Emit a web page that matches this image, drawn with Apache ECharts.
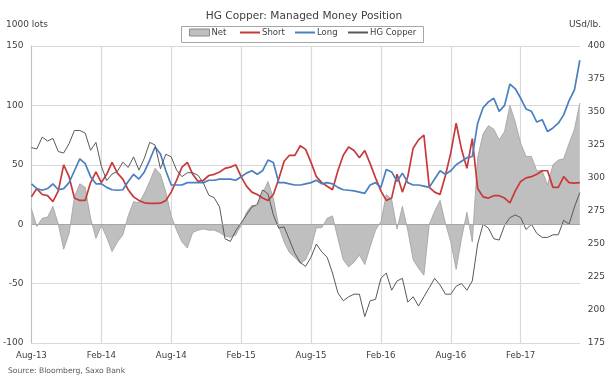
<!DOCTYPE html>
<html>
<head>
<meta charset="utf-8">
<script src="https://cdn.jsdelivr.net/npm/echarts@6/dist/echarts.min.js"></script>
<style>
html,body{margin:0;padding:0;background:#fff;}
#c{width:608px;height:381px;}
</style>
</head>
<body>
<div id="c"></div>
<script>
// Bi-weekly observations starting 2013-08-06
var startDate = '2013-08-06';
var stepDays = 14;
var tickLabels = ['Aug-13','Feb-14','Aug-14','Feb-15','Aug-15','Feb-16','Aug-16','Feb-17'];

var longPos = [
34,30,28.6,30,34,29,30,35,45,55,51,40,34,
34,31,29,28.6,29,36,42,38,44,54,65,59,45,
33,33,33,35,35,35,35,37,37,38,38,38,37,
40,43,45,42,45,54,52,35,35,34,33,33,34,
35,37,34,35,34,31,29,28.6,28,27,26,33,35,
31,46,44,36,43,35,33,33,32,31,38,45,42,
45,50,53,56,57,85,98,103,106,95,100,118,114,
106,97,95,86,88,78,81,85,92,104,113,138
];
var shortPos = [
23,30,25,24,19,28,50,40,22,20,20,35,44,
35,42,52,43,38,29,23,20,18,17.5,17.5,17.7,20,
27,37,48,52,42,36,37,41,42,44,47,48,50,
40,32,27,25,22,20,25,38,53,58,58,66,63,
52,40,35,32,29,45,58,65,62,56,62,51,39,
28,20,22,42,27,40,64,71,75,31,27,25,41,
60,85,63,47,72,30,23,22,24,24,22,18,28,
36,39,40,42,45,45,31,31,40,35,34.5,35
];
var netPos = [
13,-2,5,6,15,0,-21,-8,23,34,31,5,-12,
-1,-11,-23,-15,-9,7,19,18,26,36,47,42,27,
7,-5,-15,-20,-7,-5,-4,-5,-5,-7,-10,-11,-9,
-1,10,16,15,26,36,22,-2,-15,-24,-28,-33,-30,
-20,-3,-3,5,7,-12,-30,-36,-32,-26,-34,-19,-5,
2,25,21,-4,15,-5,-30,-37,-43,0,11,20,1,
-15,-38,-12,10,-15,56,76,83,80,71,78,100,86,
68,57,57,45,45,33,50,54,55,68,80,102
];
var copper = [
323,322,331,328,330,320,319,326,336,336,334,321,327,
309,298,303,305,312,308,316,306,315,327,325,307,318,
316,306,301,304,304,302,296,287,285,278,254,252,260,
266,272,278,280,291,288,272,262,263,253,243,236,233,
240,250,244,240,228,213,207,210,212,212,195,207,208,
224,228,215,222,224,206,210,203,210,217,224,219,212,
212,218,220,215,222,250,265,262,254,253,264,270,272,
270,261,265,258,255,255,257,257,268,265,278,289
];

var categories = [];
(function(){
  var d0 = new Date(startDate + 'T00:00:00Z');
  for (var i = 0; i < longPos.length; i++) {
    var d = new Date(d0.getTime() + i * stepDays * 86400000);
    categories.push(d.toISOString().slice(0,10));
  }
})();

var FONT = 'DejaVu Sans';
var TXT = '#404040';
var RED = '#c8393b', BLUE = '#4a7fc1', DARK = '#595959';

function legendFor(name, left, icon, w, h, style) {
  return {
    left: left, top: 28, padding: 0, itemGap: 0, itemWidth: w, itemHeight: h,
    selectedMode: false,
    textStyle: {fontFamily: FONT, fontSize: 8.5, color: TXT, padding: [0,0,0,-3]},
    data: [{name: name, icon: icon, itemStyle: style}]
  };
}

var chart = echarts.init(document.getElementById('c'), null, {renderer:'canvas'});
chart.setOption({
  animation: false,
  backgroundColor: '#ffffff',
  textStyle: {fontFamily: FONT},
  title: {
    text: 'HG Copper: Managed Money Position',
    left: 'center', top: 6,
    textStyle: {fontFamily: FONT, fontSize: 10.6, fontWeight: 'normal', color: TXT}
  },
  legend: [
    legendFor('Net', 189, 'rect', 20, 7, {color: '#bfbfbf', borderColor: '#8c8c8c', borderWidth: 1}),
    legendFor('Short', 240, 'rect', 20, 2, {color: RED}),
    legendFor('Long', 295, 'rect', 20, 2, {color: BLUE}),
    legendFor('HG Copper', 348, 'rect', 20, 2, {color: DARK})
  ],
  graphic: [
    {type: 'rect', shape: {x: 181.5, y: 26.5, width: 242, height: 16},
     style: {fill: 'none', stroke: '#a6a6a6', lineWidth: 1}, silent: true},
    {type: 'text', left: 6, top: 20, style: {text: '1000 lots', font: '9px ' + FONT, fill: TXT}},
    {type: 'text', right: 7, top: 20, style: {text: 'USd/lb.', font: '9px ' + FONT, fill: TXT}},
    {type: 'text', left: 8, top: 367, style: {text: 'Source: Bloomberg, Saxo Bank', font: '7.6px ' + FONT, fill: DARK}}
  ],
  grid: {left: 30, right: 26, top: 46, bottom: 38, containLabel: false},
  xAxis: {
    type: 'category', data: categories, boundaryGap: false,
    axisLine: {lineStyle: {color: '#bfbfbf', width: 1}},
    axisTick: {show: false},
    axisLabel: {
      interval: 12, margin: 8, fontSize: 8.6, fontFamily: FONT, color: TXT,
      formatter: function(v, idx){ return tickLabels[Math.round(idx/13)] || ''; }
    },
    splitLine: {show: true, interval: 12, lineStyle: {color: '#d9d9d9', width: 1.2}}
  },
  yAxis: [
    {
      type: 'value', min: -100, max: 150, interval: 50,
      axisLine: {show: true, lineStyle: {color: '#bfbfbf'}},
      axisTick: {show: false},
      axisLabel: {margin: 8, fontSize: 9, fontFamily: FONT, color: TXT},
      splitLine: {lineStyle: {color: '#d9d9d9', width: 1.2}}
    },
    {
      type: 'value', min: 175, max: 400, interval: 25,
      axisLine: {show: false}, axisTick: {show: false},
      axisLabel: {margin: 8, fontSize: 9, fontFamily: FONT, color: TXT},
      splitLine: {show: false}
    }
  ],
  series: [
    {
      name: 'Net', type: 'line', data: netPos, yAxisIndex: 0,
      symbol: 'none', smooth: false,
      lineStyle: {color: '#a0a0a0', width: 0.8},
      itemStyle: {color: '#bfbfbf'},
      areaStyle: {color: '#bfbfbf', opacity: 1},
      markLine: {
        silent: true, symbol: 'none', label: {show: false},
        lineStyle: {color: '#a6a6a6', type: 'solid', width: 1},
        data: [{yAxis: 0}]
      },
      z: 1
    },
    {
      name: 'Short', type: 'line', data: shortPos, yAxisIndex: 0,
      symbol: 'none', lineStyle: {color: RED, width: 1.7},
      itemStyle: {color: RED}, z: 3
    },
    {
      name: 'Long', type: 'line', data: longPos, yAxisIndex: 0,
      symbol: 'none', lineStyle: {color: BLUE, width: 1.7},
      itemStyle: {color: BLUE}, z: 3
    },
    {
      name: 'HG Copper', type: 'line', data: copper, yAxisIndex: 1,
      symbol: 'none', lineStyle: {color: DARK, width: 1},
      itemStyle: {color: DARK}, z: 4
    }
  ]
});
</script>
</body>
</html>
